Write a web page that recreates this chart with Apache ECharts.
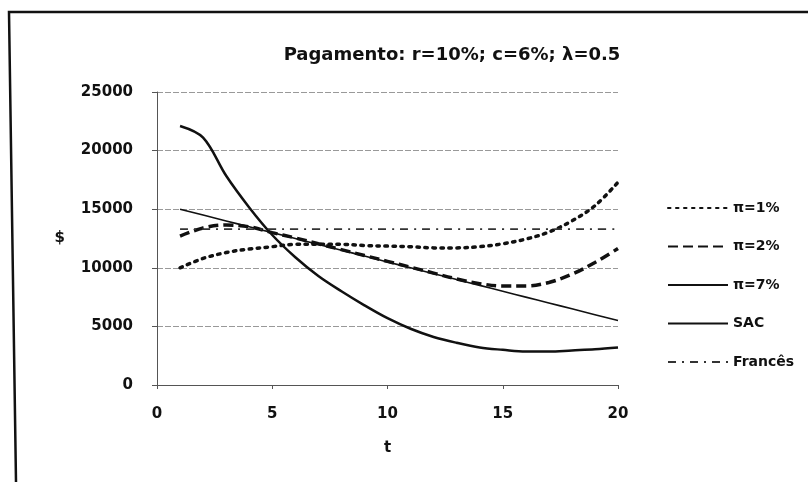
<!DOCTYPE html>
<html>
<head>
<meta charset="utf-8">
<script src="https://cdn.jsdelivr.net/npm/echarts@6/dist/echarts.min.js"></script>
<style>html,body{margin:0;padding:0;background:#fff}#c{width:808px;height:482px}</style>
</head>
<body>
<div id="c"></div>
<script>
const t = [1,2,3,4,5,6,7,8,9,10,11,12,13,14,15,16,17,18,19,20];
const pi1 = [10000,10800,11300,11600,11800,12000,12000,12000,11900,11850,11800,11700,11700,11800,12050,12450,13050,14000,15300,17300];
const pi2 = [12700,13400,13650,13500,13000,12550,12050,11550,11050,10550,10050,9550,9050,8650,8450,8450,8750,9450,10450,11650];
const pi7 = [22100,21100,17850,15150,12800,10900,9300,8000,6800,5700,4800,4100,3600,3200,3000,2850,2850,2950,3050,3200];
const sac = [15000,14500,14000,13500,13000,12500,12000,11500,11000,10500,10000,9500,9000,8500,8000,7500,7000,6500,6000,5500];
const frances = [13300,13300,13300,13300,13300,13300,13300,13300,13300,13300,13300,13300,13300,13300,13300,13300,13300,13300,13300,13300];
const names = ['\u03c0=1%','\u03c0=2%','\u03c0=7%','SAC','Franc\u00eas'];
const titleText = 'Pagamento: r=10%; c=6%; \u03bb=0.5';
const xTicks = [0,5,10,15,20];
const yTicks = [0,5000,10000,15000,20000,25000];

const pairs = arr => t.map((x,i)=>[x,arr[i]]);
const font = '"DejaVu Sans", sans-serif';
const chart = echarts.init(document.getElementById('c'));
function mk(name, arr, ls){
  return {name, type:'line', data:pairs(arr), symbol:'none', smooth:0.35, lineStyle:Object.assign({color:'#111'}, ls), itemStyle:{color:'#111'}, z: 3};
}
chart.setOption({
  animation:false,
  backgroundColor:'#fff',
  title:{text:titleText, left:447, textAlign:'center', top:41, textStyle:{fontFamily:font, fontWeight:'bold', fontSize:18, color:'#111'}},
  grid:{left:157, right:190, top:92, bottom:97, containLabel:false},
  xAxis:{type:'value', min:xTicks[0], max:xTicks[xTicks.length-1], interval:5, name:'t', nameLocation:'middle', nameGap:56,
    nameTextStyle:{fontFamily:font, fontWeight:'bold', fontSize:15, color:'#111'},
    axisLine:{show:true, lineStyle:{color:'#555', width:1}}, axisTick:{show:true, length:4, lineStyle:{color:'#555'}},
    axisLabel:{fontFamily:font, fontWeight:'bold', fontSize:15, color:'#111', margin:22, formatter:v=>String(v)},
    splitLine:{show:false}},
  yAxis:{type:'value', min:yTicks[0], max:yTicks[yTicks.length-1], interval:5000, name:'$', nameLocation:'middle', nameGap:92, nameRotate:0,
    nameTextStyle:{fontFamily:font, fontWeight:'bold', fontSize:15, color:'#111'},
    axisLine:{show:true, lineStyle:{color:'#555', width:1}}, axisTick:{show:true, length:5, lineStyle:{color:'#555'}},
    axisLabel:{fontFamily:font, fontWeight:'bold', fontSize:15, color:'#111', margin:24, formatter:v=>String(v)},
    splitLine:{show:true, lineStyle:{color:'#999', width:1, type:[6,2]}}},
  legend:{orient:'vertical', left:662, top:196, itemWidth:60, itemHeight:14, itemGap:24.5,
    itemStyle:{opacity:0},
    textStyle:{fontFamily:font, fontWeight:'bold', fontSize:14, color:'#111'},
    data:names},
  graphic:[{type:'polyline', shape:{points:[[16,482],[9,12],[808,12]]}, style:{stroke:'#111', lineWidth:2.5, fill:null}}],
  series:[
    mk(names[0], pi1, {width:3.5, type:[2.5,5.5], cap:'round'}),
    mk(names[1], pi2, {width:3.5, type:[10,5]}),
    mk(names[2], pi7, {width:2.5, type:'solid'}),
    mk(names[3], sac, {width:1.6, type:'solid'}),
    mk(names[4], frances, {width:1.6, type:[8,6,2,6], color:'#333'})
  ]
});
</script>
</body>
</html>
